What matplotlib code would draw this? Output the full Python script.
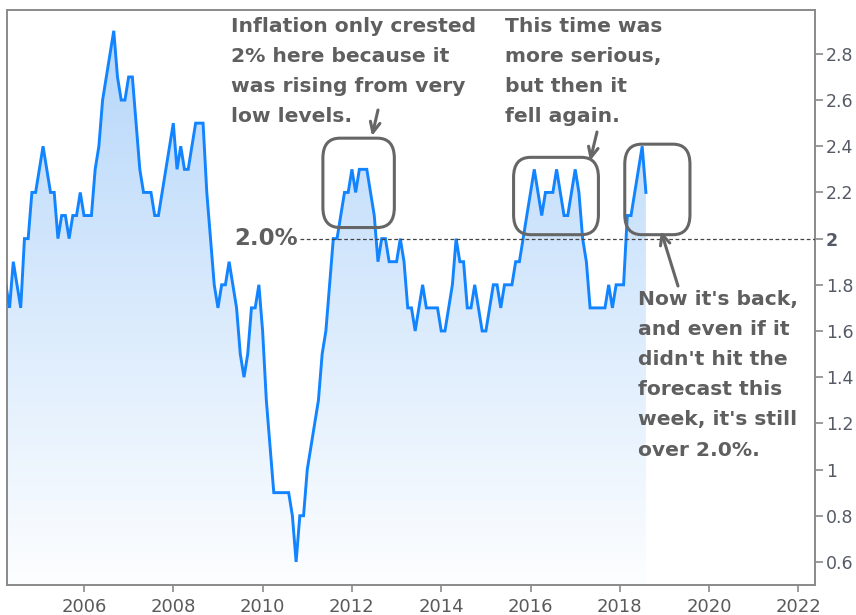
import numpy as np
import pandas as pd
import matplotlib
matplotlib.use("Agg")
import matplotlib.pyplot as plt
from matplotlib.colors import LinearSegmentedColormap
from matplotlib.patches import FancyBboxPatch

# ---------------- data ----------------
start_month = "2004-04"
core_cpi_2004 = [1.8, 1.7, 1.9, 1.8, 1.7, 2.0, 2.0, 2.2, 2.2]
core_cpi_2005 = [2.3, 2.4, 2.3, 2.2, 2.2, 2.0, 2.1, 2.1, 2.0, 2.1, 2.1, 2.2]
core_cpi_2006 = [2.1, 2.1, 2.1, 2.3, 2.4, 2.6, 2.7, 2.8, 2.9, 2.7, 2.6, 2.6]
core_cpi_2007 = [2.7, 2.7, 2.5, 2.3, 2.2, 2.2, 2.2, 2.1, 2.1, 2.2, 2.3, 2.4]
core_cpi_2008 = [2.5, 2.3, 2.4, 2.3, 2.3, 2.4, 2.5, 2.5, 2.5, 2.2, 2.0, 1.8]
core_cpi_2009 = [1.7, 1.8, 1.8, 1.9, 1.8, 1.7, 1.5, 1.4, 1.5, 1.7, 1.7, 1.8]
core_cpi_2010 = [1.6, 1.3, 1.1, 0.9, 0.9, 0.9, 0.9, 0.9, 0.8, 0.6, 0.8, 0.8]
core_cpi_2011 = [1.0, 1.1, 1.2, 1.3, 1.5, 1.6, 1.8, 2.0, 2.0, 2.1, 2.2, 2.2]
core_cpi_2012 = [2.3, 2.2, 2.3, 2.3, 2.3, 2.2, 2.1, 1.9, 2.0, 2.0, 1.9, 1.9]
core_cpi_2013 = [1.9, 2.0, 1.9, 1.7, 1.7, 1.6, 1.7, 1.8, 1.7, 1.7, 1.7, 1.7]
core_cpi_2014 = [1.6, 1.6, 1.7, 1.8, 2.0, 1.9, 1.9, 1.7, 1.7, 1.8, 1.7, 1.6]
core_cpi_2015 = [1.6, 1.7, 1.8, 1.8, 1.7, 1.8, 1.8, 1.8, 1.9, 1.9, 2.0, 2.1]
core_cpi_2016 = [2.2, 2.3, 2.2, 2.1, 2.2, 2.2, 2.2, 2.3, 2.2, 2.1, 2.1, 2.2]
core_cpi_2017 = [2.3, 2.2, 2.0, 1.9, 1.7, 1.7, 1.7, 1.7, 1.7, 1.8, 1.7, 1.8]
core_cpi_2018 = [1.8, 1.8, 2.1, 2.1, 2.2, 2.3, 2.4, 2.2]

target = 2.0
x_ticks = [2006, 2008, 2010, 2012, 2014, 2016, 2018, 2020, 2022]
y_ticks = [0.6, 0.8, 1.0, 1.2, 1.4, 1.6, 1.8, 2.0, 2.2, 2.4, 2.6, 2.8]

text_crest = "Inflation only crested\n2% here because it\nwas rising from very\nlow levels."
text_serious = "This time was\nmore serious,\nbut then it\nfell again."
text_back = ("Now it's back,\nand even if it\ndidn't hit the\nforecast this\n"
             "week, it's still\nover 2.0%.")
target_label = "2.0%"

# ---------------- build series ----------------
values = np.array(core_cpi_2004 + core_cpi_2005 + core_cpi_2006 + core_cpi_2007 +
                  core_cpi_2008 + core_cpi_2009 + core_cpi_2010 + core_cpi_2011 +
                  core_cpi_2012 + core_cpi_2013 + core_cpi_2014 + core_cpi_2015 +
                  core_cpi_2016 + core_cpi_2017 + core_cpi_2018)
dates = pd.date_range(start_month, periods=len(values), freq="MS")
x = np.asarray(dates.year + (dates.month - 1) / 12.0, dtype=float)

W, H = 856, 615
fig = plt.figure(figsize=(W / 100, H / 100), dpi=100)
fig.patch.set_facecolor("white")
ax = fig.add_axes([7 / W, 1 - 585 / H, 808 / W, 575 / H])

XLIM = (2004.276, 2022.37)
YLIM = (0.50, 2.99)

# gradient fill under the line
poly = ax.fill_between(x, values, YLIM[0], facecolor="none", edgecolor="none")
cmap = LinearSegmentedColormap.from_list("g", ["#fdfeff", "#b3d5fa"])
grad = np.linspace(0, 1, 256).reshape(-1, 1)
im = ax.imshow(grad, extent=[x[0], x[-1], YLIM[0], YLIM[1]], origin="lower",
               aspect="auto", cmap=cmap, zorder=1, interpolation="bilinear")
im.set_clip_path(poly.get_paths()[0], transform=ax.transData)

ax.plot(x, values, color="#1284ff", lw=2.1, zorder=3, solid_joinstyle="miter")

ax.set_xlim(*XLIM)
ax.set_ylim(*YLIM)

# dashed target line
ax.axhline(target, xmin=(300 - 7) / 808, xmax=1, color="#444444", lw=0.9,
           ls=(0, (3, 2)), zorder=4)

gray = "#5f5f5f"
ax.text(2010.78, target, target_label, ha="right", va="center", fontsize=16.5,
        fontweight="bold", color=gray, family="DejaVu Sans")

# axes styling
for s in ax.spines.values():
    s.set_color("#8a8a8a")
    s.set_linewidth(1.4)
ax.yaxis.tick_right()
ax.set_yticks(y_ticks)
ax.set_yticklabels([("%g" % v) for v in y_ticks])
ax.set_xticks(x_ticks)
ax.set_xticklabels([str(v) for v in x_ticks])
ax.tick_params(axis="y", direction="out", length=6, width=1.2, color="#8a8a8a",
               labelsize=12.5, labelcolor="#555a66", pad=2)
ax.tick_params(axis="x", direction="out", length=5, width=1.2, color="#8a8a8a",
               labelsize=13, labelcolor="#5a5a5a", pad=4)
for lab, v in zip(ax.get_yticklabels(), y_ticks):
    if abs(v - target) < 1e-9:
        lab.set_fontweight("bold")

# annotation text
tkw = dict(fontsize=14.6, fontweight="bold", color=gray, family="DejaVu Sans",
           linespacing=1.74, va="top", ha="left")
fig.text(231 / W, 1 - 17 / H, text_crest, **tkw)
fig.text(505 / W, 1 - 17 / H, text_serious, **tkw)
fig.text(638 / W, 1 - 290 / H, text_back, **tkw)

# rounded boxes (data coords)
boxes = [(2011.35, 2.048, 2012.95, 2.435),
         (2015.62, 2.017, 2017.52, 2.352),
         (2018.11, 2.017, 2019.57, 2.409)]
for (x0, y0, x1, y1) in boxes:
    p = FancyBboxPatch((x0, y0), x1 - x0, y1 - y0,
                       boxstyle="round,pad=0,rounding_size=0.38",
                       mutation_aspect=0.4 / 1.75,
                       fc="none", ec="#666666", lw=2.2, zorder=5)
    ax.add_patch(p)

# arrows (figure pixel coords)
def arrow(tail, tip):
    ax.annotate("", xy=(tip[0] / W, 1 - tip[1] / H), xycoords="figure fraction",
                xytext=(tail[0] / W, 1 - tail[1] / H), textcoords="figure fraction",
                arrowprops=dict(arrowstyle="->,head_length=0.75,head_width=0.35",
                                color="#666666", lw=2.2, shrinkA=0, shrinkB=0),
                zorder=6)

arrow((378, 110), (372, 136))
arrow((597, 132), (590, 161))
arrow((678, 286), (661, 231))

fig.savefig("out.png", dpi=100, facecolor="white")
